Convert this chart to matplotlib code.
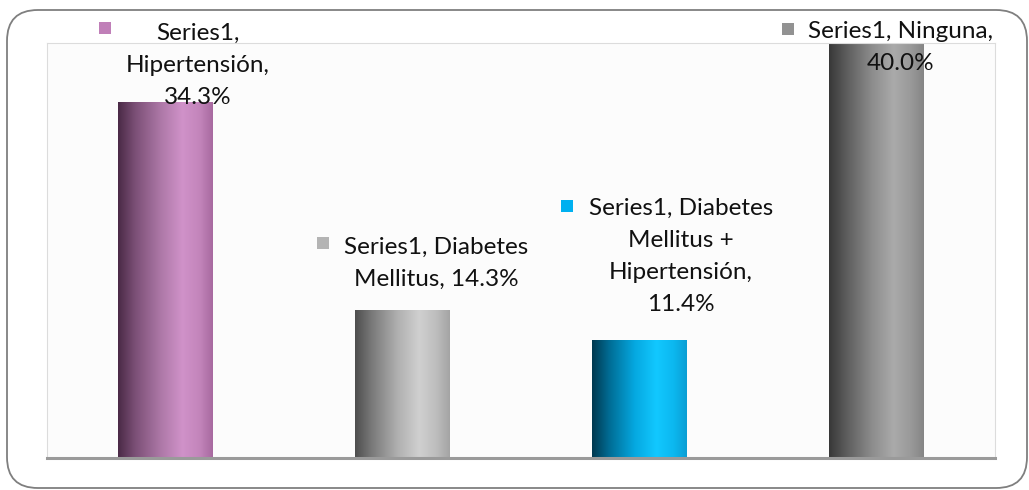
import numpy as np
import matplotlib
matplotlib.use("Agg")
import matplotlib.pyplot as plt
from matplotlib.colors import LinearSegmentedColormap, to_rgb
from matplotlib.patches import FancyBboxPatch
from matplotlib.transforms import offset_copy

# ---------------- data ----------------
series_name = "Series1"
categories = ["Hipertensión", "Diabetes Mellitus", "Diabetes Mellitus + Hipertensión", "Ninguna"]
values = [34.3, 14.3, 11.4, 40.0]
label_texts = [
    "Series1,\nHipertensión,\n34.3%",
    "Series1, Diabetes\nMellitus, 14.3%",
    "Series1, Diabetes\nMellitus +\nHipertensión,\n11.4%",
    "Series1, Ninguna,\n40.0%",
]

# ---------------- style ----------------
key_colors = ["#c07fb8", "#b4b4b4", "#00b0f0", "#929292"]
gradients = [
    [(0.0, "#4a2a46"), (0.18, "#7b4f76"), (0.45, "#ad78a7"), (0.68, "#d092c9"), (0.86, "#c385bb"), (1.0, "#a86aa0")],
    [(0.0, "#4e4e4e"), (0.18, "#7a7a7a"), (0.45, "#b0b0b0"), (0.68, "#d0d0d0"), (0.86, "#bdbdbd"), (1.0, "#a4a4a4")],
    [(0.0, "#00384f"), (0.18, "#006c94"), (0.45, "#05a8e0"), (0.68, "#12c8ff"), (0.86, "#0cb8f0"), (1.0, "#0a9ed4")],
    [(0.0, "#383838"), (0.18, "#5c5c5c"), (0.45, "#8c8c8c"), (0.68, "#aaaaaa"), (0.86, "#9a9a9a"), (1.0, "#858585")],
]
# label offsets in pixels relative to bar top: (text dx, last-baseline dy, key dx, key dy)
label_offsets = [
    (32.5, -2, -60.5, 74),
    (33.5, 24, -80, 66.5),
    (41.5, 29, -72.5, 134),
    (24.5, -27, -89, 13.5),
]

W, H, DPI = 1029, 490, 100
fig = plt.figure(figsize=(W / DPI, H / DPI), dpi=DPI)
fig.patch.set_facecolor("white")

# rounded chart border
x0, y0, x1, y1 = 7, 2, 1027, 480  # pixels from bottom-left
border = FancyBboxPatch((x0 / W, y0 / H), (x1 - x0) / W, (y1 - y0) / H,
                        boxstyle="round,pad=0,rounding_size=0.03",
                        transform=fig.transFigure, facecolor="none",
                        edgecolor="#7f7f7f", linewidth=1.3, mutation_aspect=W / H)
fig.patches.append(border)

ax = fig.add_axes([47 / W, (H - 458) / H, (995 - 47) / W, (458 - 43) / H])
ax.set_facecolor("#fcfcfc")
x = np.arange(len(categories))
bars = ax.bar(x, values, width=0.4, color="none", edgecolor="none", zorder=2)

for b, stops in zip(bars, gradients):
    cmap = LinearSegmentedColormap.from_list("g", [(p, to_rgb(c)) for p, c in stops])
    grad = np.linspace(0, 1, 256).reshape(1, -1)
    bx, bw, bh = b.get_x(), b.get_width(), b.get_height()
    im = ax.imshow(grad, cmap=cmap, aspect="auto", extent=(bx, bx + bw, 0, bh),
                   origin="lower", zorder=2, interpolation="bilinear")
    im.set_clip_path(b)
ax.set_xlim(-0.5, len(categories) - 0.5)
ax.set_ylim(0, 40)

for sp in ["left", "top", "right"]:
    ax.spines[sp].set_color("#dcdcdc")
    ax.spines[sp].set_linewidth(0.8)
ax.spines["bottom"].set_color("#9a9a9a")
ax.spines["bottom"].set_linewidth(2.2)
ax.spines["bottom"].set_zorder(5)
ax.set_xticks([])
ax.set_yticks([])

font = ["Lato", "DejaVu Sans"]
for i, (xi, v) in enumerate(zip(x, values)):
    tdx, tdy, kdx, kdy = label_offsets[i]
    ttr = offset_copy(ax.transData, fig=fig, x=tdx, y=tdy, units="dots")
    ax.text(xi, v, label_texts[i], transform=ttr, ha="center", va="baseline",
            multialignment="center", fontsize=17.5, family=font, color="#111111",
            linespacing=1.65, zorder=6, clip_on=False)
    ktr = offset_copy(ax.transData, fig=fig, x=kdx, y=kdy, units="dots")
    ax.plot([xi], [v], marker="s", markersize=8.8, color=key_colors[i],
            markeredgewidth=0, transform=ktr, clip_on=False, zorder=6)

fig.savefig("out.png", dpi=DPI)
